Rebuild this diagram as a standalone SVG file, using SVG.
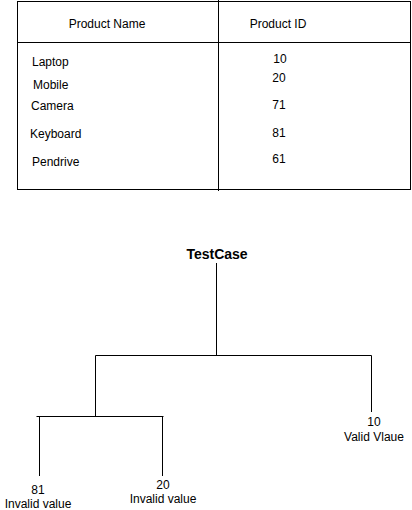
<svg xmlns="http://www.w3.org/2000/svg" width="412" height="510" viewBox="0 0 412 510">
<style>
text{font-family:"Liberation Sans",Arial,sans-serif;font-size:12px;fill:#000}
.c{text-anchor:middle}
.b{font-weight:bold;font-size:14px}
.ln{stroke:#000;stroke-width:1;fill:none}
</style>
<rect width="412" height="510" fill="#fff"/>
<g id="table">
<rect class="ln" x="17.5" y="1.5" width="393" height="188"/>
<line class="ln" x1="17.5" y1="42.5" x2="410.5" y2="42.5"/>
<line class="ln" x1="218.5" y1="0" x2="218.5" y2="191"/>
<text class="c" x="107" y="28">Product Name</text>
<text class="c" x="278" y="28">Product ID</text>
<text x="32" y="66">Laptop</text>
<text x="33" y="89">Mobile</text>
<text x="31" y="110">Camera</text>
<text x="30" y="138">Keyboard</text>
<text x="32" y="166">Pendrive</text>
<text class="c" x="280" y="63">10</text>
<text class="c" x="279" y="82">20</text>
<text class="c" x="279" y="109">71</text>
<text class="c" x="279" y="137">81</text>
<text class="c" x="279" y="163">61</text>
</g>
<g id="connectors">
<path class="ln" d="M216.5 263V355.5M95.5 355.5H371.5V412M95.5 355.5V416.5M36.5 416.5H163.5M39.5 416.5V476M162.5 416.5V476"/>
</g>
<g id="root"><text class="c b" x="217" y="259">TestCase</text></g>
<g id="valid"><text class="c" x="374" y="426">10</text><text class="c" x="374" y="441">Valid Vlaue</text></g>
<g id="inv81"><text class="c" x="38" y="494">81</text><text class="c" x="38" y="508">Invalid value</text></g>
<g id="inv20"><text class="c" x="163" y="489">20</text><text class="c" x="163" y="503">Invalid value</text></g>
</svg>
